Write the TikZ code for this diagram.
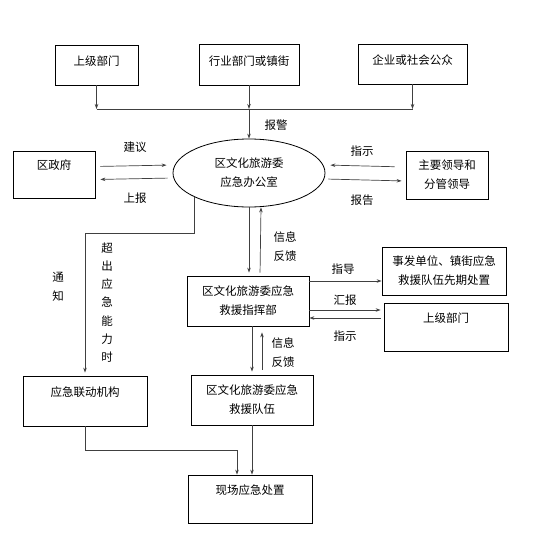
\documentclass[tikz,border=0pt]{standalone}
\usepackage{fontspec}
\newfontfamily\cjk{Noto Sans CJK SC}
\usetikzlibrary{shapes.geometric,arrows.meta}
\begin{document}
\begin{tikzpicture}[x=1pt,y=-1pt,
  every node/.style={font=\cjk\fontsize{11.5}{19}\selectfont,align=center,inner sep=0pt},
  box/.style={draw,line width=0.8pt,minimum width=124pt,minimum height=48pt},
  arr/.style={-{Stealth[length=5pt,width=3.5pt]},line width=0.7pt,black!75},
  ln/.style={line width=0.7pt,black!75}]
\useasboundingbox (0,0) rectangle (541,538);
% Sources
\node[box,minimum width=83pt,minimum height=40pt,text depth=8pt] (sup1) at (96.5,65) {上级部门};
\node[box,minimum width=100pt,minimum height=41pt,text depth=8pt] (trade) at (249,64.5) {行业部门或镇街};
\node[box,minimum width=109pt,minimum height=40pt,text depth=8pt] (public) at (412.5,64) {企业或社会公众};
\coordinate (j1) at (96.5,109);
\coordinate (j2) at (249,109);
\coordinate (j3) at (412.5,109);
\draw[arr] (sup1) -- (j1);
\draw[arr] (trade) -- (j2);
\draw[arr] (public) -- (j3);
\draw[ln] (j1) -- (j3);
% Office
\node[draw,line width=0.8pt,ellipse,minimum width=152pt,minimum height=68pt] (office) at (249,173) {区文化旅游委\\应急办公室};
\draw[arr] (j2) -- (office.north);
\node (alarm) at (276,125) {报警};
\node[box,minimum width=82pt,minimum height=47pt] (gov) at (54,174.5) {区政府\\~};
\node[box,minimum width=82pt] (lead) at (447,175) {主要领导和\\分管领导};
\draw[arr,shorten <=5pt,shorten >=6pt] ([yshift=8pt]gov.east) -- ([yshift=8pt]office.west);
\draw[arr,shorten <=5pt,shorten >=5pt] ([yshift=-5pt]office.west) -- ([yshift=-5pt]gov.east);
\draw[arr,shorten <=11pt,shorten >=5pt] ([yshift=8pt]lead.west) -- ([yshift=8pt]office.east);
\draw[arr,shorten <=3pt,shorten >=4pt] ([yshift=-6pt]office.east) -- ([yshift=-6pt]lead.west);
\node (advise) at (135,147) {建议};
\node (report1) at (135,198) {上报};
\node (instr1) at (362,151) {指示};
\node (report2) at (362,200) {报告};
% Command
\node[box,minimum width=122pt,minimum height=50pt] (cmd) at (248,301) {区文化旅游委应急\\救援指挥部};
\draw[arr,shorten >=3pt] (office.south) -- (office.south |- cmd.north);
\draw[arr,shorten <=3pt] ([xshift=12pt]cmd.north) -- ([xshift=12pt]office.south);
\node (feed1) at (285,246.5) {信息\\反馈};
\node[box] (site) at (444,271) {事发单位、镇街应急\\救援队伍先期处置};
\node[box] (sup2) at (446,327) {上级部门\\~};
\draw[arr] ([yshift=20pt]cmd.east) -- ([yshift=20pt]cmd.east -| site.west);
\draw[arr,shorten >=3pt] ([yshift=-9pt]cmd.east) -- ([yshift=-9pt]cmd.east -| sup2.west);
\draw[arr,shorten <=3pt] ([yshift=-17pt]cmd.east -| sup2.west) -- ([yshift=-17pt]cmd.east);
\node (guide) at (343,269) {指导};
\node (report3) at (345,300) {汇报};
\node (instr2) at (345,336) {指示};
% Linkage
\node[box,minimum height=50pt] (link) at (85,401) {应急联动机构\\~};
\coordinate (notify) at (85,233);
\draw[arr,shorten >=3pt] (office.204) |- (notify) -- (link.north);
\node (notice) at (58,286.5) {通\\知};
\node[font=\cjk\fontsize{11.5}{18.2}\selectfont] (beyond) at (107,302.5) {超\\出\\应\\急\\能\\力\\时};
% Team
\node[box,minimum width=122pt,minimum height=50pt] (team) at (252,400) {区文化旅游委应急\\救援队伍};
\draw[arr,shorten >=3pt] (team.north |- cmd.south) -- (team.north);
\draw[arr,shorten <=5pt,shorten >=6pt] ([xshift=10pt]team.north) -- ([xshift=10pt]team.north |- cmd.south);
\node (feed2) at (283,353) {信息\\反馈};
% Scene
\node[box] (scene) at (250,499) {现场应急处置\\~};
\coordinate (merge) at (237,450);
\draw[arr] (link.south) |- (merge) -- (merge |- scene.north);
\draw[arr] (team.south) -- (team.south |- scene.north);
\end{tikzpicture}
\end{document}
